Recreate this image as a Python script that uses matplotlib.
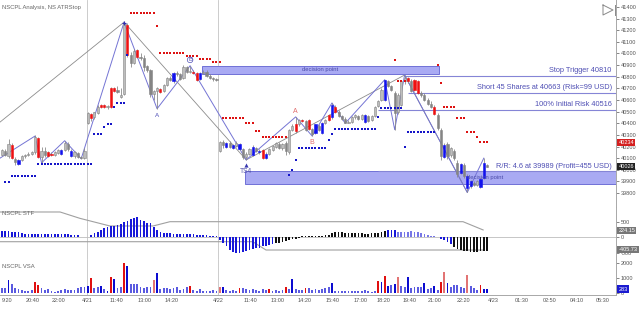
import numpy as np
import matplotlib
matplotlib.use('Agg')
import matplotlib.pyplot as plt
from matplotlib.patches import Rectangle
import matplotlib.transforms as mtransforms

plt.rcParams['font.family'] = ['Liberation Sans', 'DejaVu Sans']

# ---- price bars (one per 10 min, 3 sessions) ----
opens = [40130, 40165, 40120, 40215, 40095, 40050, 40085, 40115, 40130, 40140,
         40150, 40270, 40110, 40165, 40150, 40140, 40130, 40145, 40135, 40170,
         40225, 40165, 40120, 40145, 40110, 40100,
         40400, 40480, 40450, 40490, 40555, 40555, 40540, 40700, 40705, 40690,
         40630, 40650, 41245, 40990, 40920, 41030, 40970, 40960, 40890, 40860,
         40650, 40680, 40695, 40680, 40730, 40790, 40760, 40835, 40820, 40790,
         40880, 40840, 40845, 40835, 40780, 40830, 40845, 40810, 40790, 40780,
         40160, 40240, 40200, 40230, 40190, 40205, 40220, 40175, 40110, 40140,
         40130, 40190, 40160, 40170, 40100, 40140, 40170, 40200, 40220, 40190,
         40230, 40150, 40340, 40390, 40390, 40430, 40420, 40430, 40350, 40320,
         40380, 40320, 40400, 40470, 40450, 40540, 40500, 40460, 40440, 40405,
         40415, 40450, 40460, 40440, 40410, 40460, 40430, 40460, 40550, 40600,
         40600, 40760, 40720, 40660, 40500, 40560, 40760, 40790, 40760, 40770,
         40760, 40660, 40640, 40600, 40570, 40540, 40470, 40340, 40110, 40220,
         40130, 40160, 40060, 39970, 40040, 39840, 39860, 39890, 39870, 39850,
         39930, 40040]
highs = [40180, 40175, 40265, 40230, 40110, 40095, 40125, 40140, 40150, 40165,
         40295, 40285, 40200, 40200, 40160, 40150, 40160, 40180, 40180, 40250,
         40240, 40175, 40160, 40155, 40120, 40185,
         40500, 40490, 40500, 40560, 40570, 40565, 40560, 40710, 40715, 40720,
         40700, 41270, 41260, 41010, 41040, 41040, 41000, 40990, 40900, 40870,
         40690, 40710, 40705, 40740, 40800, 40810, 40845, 40850, 40830, 40900,
         40895, 40895, 40860, 40845, 40840, 40860, 40855, 40820, 40800, 40790,
         40250, 40260, 40240, 40245, 40220, 40245, 40230, 40185, 40150, 40190,
         40210, 40200, 40175, 40180, 40150, 40190, 40215, 40240, 40235, 40230,
         40245, 40355, 40390, 40455, 40440, 40440, 40430, 40440, 40360, 40395,
         40390, 40410, 40440, 40480, 40575, 40555, 40510, 40475, 40450, 40430,
         40460, 40480, 40470, 40480, 40480, 40475, 40470, 40550, 40600, 40700,
         40775, 40770, 40730, 40680, 40660, 40770, 40815, 40800, 40780, 40780,
         40770, 40680, 40660, 40620, 40590, 40560, 40490, 40360, 40230, 40240,
         40200, 40180, 40080, 40060, 40060, 39960, 39910, 39900, 39910, 39930,
         40100, 40050]
lows = [40120, 40115, 40100, 40090, 40040, 40040, 40075, 40105, 40120, 40130,
        40140, 40100, 40060, 40110, 40110, 40120, 40120, 40140, 40130, 40160,
        40160, 40110, 40105, 40100, 40095, 40090,
        40390, 40420, 40440, 40480, 40530, 40530, 40520, 40530, 40670, 40660,
        40620, 40640, 40970, 40880, 40910, 40960, 40940, 40850, 40840, 40630,
        40600, 40525, 40660, 40670, 40720, 40760, 40750, 40810, 40770, 40780,
        40830, 40830, 40825, 40760, 40770, 40820, 40800, 40780, 40760, 40760,
        40150, 40190, 40190, 40190, 40180, 40195, 40170, 40095, 40085, 40130,
        40120, 40150, 40140, 40095, 40090, 40130, 40160, 40190, 40180, 40170,
        40130, 40140, 40330, 40320, 40380, 40410, 40330, 40340, 40290, 40310,
        40330, 40310, 40390, 40420, 40440, 40490, 40450, 40430, 40400, 40400,
        40405, 40440, 40430, 40430, 40400, 40410, 40420, 40450, 40540, 40590,
        40595, 40710, 40680, 40345, 40480, 40550, 40740, 40750, 40670, 40680,
        40650, 40630, 40590, 40560, 40530, 40470, 40340, 40080, 40100, 40090,
        40110, 40080, 39940, 39960, 39930, 39805, 39840, 39860, 39860, 39840,
        39920, 40020]
closes = [40170, 40130, 40225, 40100, 40070, 40085, 40115, 40130, 40140, 40150,
          40280, 40110, 40165, 40125, 40120, 40130, 40150, 40170, 40170, 40230,
          40175, 40120, 40150, 40110, 40100, 40165,
          40490, 40445, 40495, 40540, 40540, 40540, 40550, 40540, 40680, 40670,
          40645, 41260, 40990, 40915, 41020, 40970, 40960, 40880, 40860, 40650,
          40680, 40700, 40670, 40730, 40790, 40770, 40835, 40820, 40780, 40880,
          40840, 40850, 40835, 40770, 40830, 40845, 40810, 40790, 40780, 40770,
          40240, 40210, 40230, 40200, 40210, 40230, 40175, 40110, 40140, 40180,
          40200, 40160, 40150, 40105, 40140, 40180, 40205, 40230, 40190, 40220,
          40160, 40345, 40380, 40330, 40430, 40420, 40340, 40350, 40310, 40390,
          40340, 40400, 40430, 40430, 40555, 40500, 40460, 40440, 40405, 40415,
          40450, 40470, 40440, 40470, 40470, 40420, 40460, 40540, 40590, 40690,
          40770, 40720, 40690, 40490, 40640, 40760, 40790, 40760, 40680, 40690,
          40660, 40640, 40600, 40570, 40540, 40480, 40360, 40120, 40210, 40120,
          40190, 40100, 39960, 40050, 39950, 39950, 39900, 39870, 39900, 39920,
          40060, 40026]
candle_colors = ("gggrgbgggg" "grggrrggbg" "gbgggg"
                 "grggrrgrrg" "ggrggrgggg" "ggrgggbggg" "ggrrbggggg"
                 "ggbgbgbggg" "bgbrbggggg" "gggrgrgrgb" "gbgrbrgggg"
                 "ggggbggggg" "bggggggrgr" "rggggrggbg" "gggbgbbggb" "bg")

# ATR stop dots: (first bar, last bar, level)
stop_red = [(39, 46, 41348), (47, 47, 41236), (48, 55, 41005), (56, 59, 40975),
            (60, 63, 40955), (64, 66, 40925), (67, 73, 40445), (74, 76, 40400),
            (77, 78, 40335), (79, 86, 40282), (119, 119, 40944), (120, 122, 40760),
            (132, 132, 40900), (133, 133, 40745), (134, 137, 40540),
            (138, 140, 40445), (141, 143, 40325), (144, 144, 40282), (145, 147, 40240)]
stop_blue = [(1, 2, 39895), (3, 10, 39947), (11, 27, 40050), (28, 30, 40310),
             (31, 31, 40370), (32, 33, 40395), (34, 34, 40540), (35, 37, 40575),
             (38, 38, 40990), (87, 87, 39955), (88, 88, 40000), (89, 89, 40085),
             (90, 98, 40190), (99, 99, 40255), (100, 100, 40310), (101, 113, 40350),
             (114, 114, 40455), (115, 121, 40530), (122, 122, 40196), (123, 131, 40325)]

# zigzag swing points and trend lines
zig_bars = [-0.6, 10, 12, 19, 24, 37, 47, 57, 74, 89, 94, 100, 104, 116, 119, 122, 141, 146]
zig_prices = [40100, 40290, 40060, 40250, 40095, 41270, 40525, 40895, 40085,
              40455, 40290, 40575, 40400, 40775, 40345, 40815, 39805, 40100]
trend_bars = [-0.6, 37, 74, 122, 141]
trend_prices = [40410, 41270, 40085, 40815, 39805]

# trade levels
level_prices = [40810, 40663, 40516, 39989]
level_start = [122, 123, 114, 114]
level_labels = ['Stop Trigger 40810', 'Short 45 Shares at 40663 (Risk=99 USD)',
                '100% Initial Risk 40516', 'R/R: 4.6 at 39989 (Profit=455 USD)']

# decision point zones: (bar from, bar to, low, high, label bar)
zones = [(60.6, 132.4, 40825, 40895, 96.5), (73.6, 186.1, 39878, 39990, 146.4)]

# STF oscillator
stf = [215, 205, 195, 185, 175, 160, 150,
       120, 115, 110, 115, 110, 110, 105, 110, 105, 100, 100, 95, 100, 95, 90, 90, 85,
       0, 0, 0,
       75, 130, 185, 240, 300, 350, 380, 380, 400, 425, 510, 545, 590, 620, 650, 570,
       545, 480, 460, 350, 240, 185, 155,
       130, 125, 120, 115, 110, 105, 100, 100, 95, 90, 85, 80, 70, 55, 40, 30,
       -90, -200, -300, -410, -470, -500, -500, -470, -450, -415, -395, -360, -340,
       -300, -275, -250, -220, -200, -175, -140, -110, -90, -70, -55, -35,
       30, 35, 40, 40, 45, 45, 50, 60, 75,
       150, 180, 185, 180,
       150, 140, 130, 130, 125, 125, 120, 120, 130, 140, 150, 170, 210,
       240, 250, 230,
       180, 170, 160, 175, 190, 180, 160, 130, 100, 70, 40,
       30, 0,
       -40, -90, -140, -210,
       -330, -380, -420, -450, -460, -470, -475, -470, -460, -455, -440]
stf_colors = "b" * 66 + "b" * 17 + "k" * 34 + "bbb" + "l" * 13 + "bbbb" + "k" * 11
stf_upper_bars = [-0.6, 17.6, 23.6, 32.7, 45.8, 50.9, 139.7, 145.8]
stf_upper = [827, 827, 620, 370, 370, 510, 510, 240]
stf_lower_bars = [-0.6, 76, 80, 146]
stf_lower = [-144, -144, -415, -415]

# VSA volume
volume = [333, 333, 890, 620, 333, 270, 220, 180, 155, 220,
          780, 555, 333, 220, 290, 155, 110, 180, 220, 265,
          220, 220, 220, 333, 400, 445, 490, 1000, 333, 445,
          490, 265, 180, 1065, 930, 333, 400, 2040, 1820, 620,
          620, 620, 400, 333, 400, 445, 890, 1330, 265, 333,
          380, 265, 333, 400, 220, 310, 400, 490, 220, 180,
          265, 155, 180, 155, 220, 180, 400, 400, 220, 155,
          220, 180, 333, 333, 265, 220, 265, 220, 155, 265,
          220, 265, 180, 220, 155, 220, 445, 265, 955, 265,
          220, 220, 333, 333, 220, 265, 220, 265, 333, 400,
          665, 180, 155, 130, 155, 155, 155, 155, 130, 155,
          220, 130, 110, 180, 820, 730, 1155, 490, 555, 620,
          1110, 490, 445, 1065, 333, 400, 445, 400, 665, 265,
          333, 490, 220, 775, 1445, 665, 400, 555, 555, 445,
          333, 1220, 490, 333, 220, 555, 265, 283]
volume_colors = ("llblllllll" "rrllllllll" "llllllbrll" "blbrbllrbl"
                 "llllllsbll" "lllllllrll" "llllllsbll" "llrlllllll"
                 "lrllllrlbl" "llrlllllll" "blllllllll" "llllrbrblb"
                 "sllbllllbl" "lblrsbllll" "lslllrbb")

time_pos = [1.5, 9.4, 17, 25.8, 34.8, 43.3, 51.5, 65.5, 75.2, 83.6, 91.8, 100.3,
            108.8, 115.5, 123.6, 131.2, 139.7, 149, 157.6, 166, 174.3, 182.1]
time_labels = ['9:20', '20:40', '22:00', '4/21', '11:40', '13:00', '14:20', '4/22',
               '11:40', '13:00', '14:20', '15:40', '17:00', '18:20', '19:40', '21:00',
               '22:20', '4/23', '01:30', '02:50', '04:10', '05:30']
day_breaks = [25.8, 65.5]

# ---- figure ----
W, H = 640, 309
fig = plt.figure(figsize=(W / 100, H / 100), dpi=100)


def rect(x0, y0, x1, y1):
    return [x0 / W, 1 - y1 / H, (x1 - x0) / W, (y1 - y0) / H]


ax1 = fig.add_axes(rect(0, 0, 616, 207))
ax2 = fig.add_axes(rect(0, 207, 616, 259))
ax3 = fig.add_axes(rect(0, 259, 616, 295))

GRID = '#a8a8a8'
TXT = '#555555'
XMIN, XMAX = -0.6, 186.06
for ax in (ax1, ax2, ax3):
    ax.set_xlim(XMIN, XMAX)
    for s in ('top', 'left'):
        ax.spines[s].set_visible(False)
    ax.spines['right'].set_color(GRID)
    ax.spines['bottom'].set_color(GRID)
    ax.spines['right'].set_linewidth(0.7)
    ax.spines['bottom'].set_linewidth(0.7)
    ax.yaxis.tick_right()
    ax.tick_params(axis='y', labelsize=4, colors=TXT, length=2, width=0.5, pad=1.5)
    ax.tick_params(axis='x', length=0)
    for d in day_breaks:
        ax.axvline(d, color='#c4c4c4', lw=0.6, zorder=0)
    ax.set_xticks([])

# price panel
ax1.set_ylim(39680, 41460)
ax1.set_yticks(range(39800, 41401, 100))
ax1.set_yticklabels([str(v) for v in range(39800, 41401, 100)])

for (x0, x1, lo, hi, tx) in zones:
    ax1.add_patch(Rectangle((x0, lo), x1 - x0, hi - lo, facecolor='#a9aaf3',
                            edgecolor='#6f70d6', lw=0.7, zorder=1))
    ax1.text(tx, (lo + hi) / 2, 'decision point', ha='center', va='center',
             fontsize=4.2, color='#4a4aa8', zorder=6)

for p, s, lab in zip(level_prices, level_start, level_labels):
    ax1.hlines(p, s, XMAX, color='#8585d6', lw=0.8, zorder=2)
    ax1.text(184.8, p + 12, lab, ha='right', va='bottom', fontsize=5.3,
             color='#4f4fb4', zorder=6)

ax1.plot(trend_bars, trend_prices, color='#8c8c8c', lw=0.6, zorder=2)
ax1.plot(zig_bars, zig_prices, color='#7474d4', lw=0.7, zorder=3)

xs = np.arange(len(closes))
col_map = {'r': '#ee1111', 'b': '#1111ee'}
ax1.vlines(xs, lows, highs, color='#8a8a8a', lw=0.6, zorder=4)
for i in xs:
    o, c, k = opens[i], closes[i], candle_colors[i]
    h = c - o
    if abs(h) < 6:
        h = 6 if h >= 0 else -6
    if k == 'g':
        fc = '#bdbdbd' if c > o else '#858585'
        ec = '#858585'
    else:
        fc = ec = col_map[k]
    ax1.bar(i, h, bottom=o, width=0.66, color=fc, edgecolor=ec, lw=0.4, zorder=5)

for segs, color in ((stop_red, '#dd1111'), (stop_blue, '#1515c8')):
    for a, b, p in segs:
        bx = np.arange(a, b + 1)
        ax1.plot(bx, [p] * len(bx), 's', ms=1.5, mew=0, color=color, zorder=6)

# swing labels
ax1.plot(37, 41262, marker='+', ms=3, mew=0.8, color='#3030b0', zorder=7)
ax1.text(47, 40470, 'A', ha='center', va='center', fontsize=4.5, color='#5050b8', zorder=7)
ax1.text(57, 40945, 'B', ha='center', va='center', fontsize=4.2, color='#5050b8', zorder=7,
         bbox=dict(boxstyle='circle,pad=0.05', fc='none', ec='#5050b8', lw=0.5))
ax1.plot(74, 40040, marker='^', ms=3, mew=0, color='#3838b0', zorder=7)
ax1.text(74, 39985, 'TS4', ha='center', va='center', fontsize=4.8, color='#5050a8', zorder=7)
ax1.text(89, 40500, 'A', ha='center', va='center', fontsize=5, color='#e06c6c', zorder=7)
ax1.text(94, 40235, 'B', ha='center', va='center', fontsize=5, color='#e06c6c', zorder=7)

ax1.text(0.003, 0.975, 'NSCPL Analysis, NS ATRStop', transform=ax1.transAxes,
         fontsize=4.2, color='#666666', va='top', ha='left')

trans1 = mtransforms.blended_transform_factory(ax1.transAxes, ax1.transData)
ax1.text(1.004, 40234, '40234', transform=trans1, fontsize=4, color='white', va='center',
         ha='left', bbox=dict(boxstyle='square,pad=0.2', fc='#d42020', ec='none'), zorder=8)
ax1.text(1.004, 40026, '40026', transform=trans1, fontsize=4, color='white', va='center',
         ha='left', bbox=dict(boxstyle='square,pad=0.2', fc='#222222', ec='none'), zorder=8)

# STF panel
ax2.set_ylim(-709, 990)
ax2.set_yticks([-500, 0, 500])
ax2.set_yticklabels(['-500', '0', '500'])
ax2.axhline(0, color='#bdbdbd', lw=0.6, zorder=1)
stf_map = {'b': '#1818d8', 'l': '#7777e6', 'k': '#111111'}
ax2.bar(xs, stf, width=0.5, color=[stf_map[c] for c in stf_colors], zorder=3)
ax2.plot(stf_upper_bars, stf_upper, color='#a0a0a0', lw=0.8, zorder=2)
ax2.plot(stf_lower_bars, stf_lower, color='#a0a0a0', lw=0.8, zorder=2)
ax2.text(0.003, 0.92, 'NSCPL STF', transform=ax2.transAxes, fontsize=4.2,
         color='#666666', va='top', ha='left')
trans2 = mtransforms.blended_transform_factory(ax2.transAxes, ax2.transData)
ax2.text(1.004, 224.15, '224.15', transform=trans2, fontsize=4, color='white', va='center',
         ha='left', bbox=dict(boxstyle='square,pad=0.2', fc='#777777', ec='none'), zorder=8)
ax2.text(1.004, -405.73, '-405.73', transform=trans2, fontsize=4, color='white', va='center',
         ha='left', bbox=dict(boxstyle='square,pad=0.2', fc='#777777', ec='none'), zorder=8)

# VSA panel
ax3.set_ylim(-113, 2290)
ax3.set_yticks([0, 1000, 2000])
ax3.set_yticklabels(['0', '1000', '2000'])
vol_map = {'b': '#0c0cd0', 'l': '#5a5ae0', 'r': '#e01010', 's': '#e27474'}
ax3.bar(xs, volume, width=0.55, color=[vol_map[c] for c in volume_colors], zorder=3)
ax3.text(0.003, 0.86, 'NSCPL VSA', transform=ax3.transAxes, fontsize=4.2,
         color='#666666', va='top', ha='left')
trans3 = mtransforms.blended_transform_factory(ax3.transAxes, ax3.transData)
ax3.text(1.004, 283, '283', transform=trans3, fontsize=4, color='white', va='center',
         ha='left', bbox=dict(boxstyle='square,pad=0.2', fc='#1a1ad0', ec='none'), zorder=8)

ax3.set_xticks(time_pos)
ax3.set_xticklabels(time_labels, fontsize=4, color=TXT)
ax3.tick_params(axis='x', length=0, pad=2)

# navigation glyph top right
fig.lines.append(plt.Line2D([603 / W, 613 / W, 603 / W, 603 / W],
                            [1 - 5 / H, 1 - 10 / H, 1 - 15 / H, 1 - 5 / H],
                            transform=fig.transFigure, color='#888888', lw=0.7))
fig.lines.append(plt.Line2D([615 / W, 615 / W], [1 - 5 / H, 1 - 15 / H],
                            transform=fig.transFigure, color='#888888', lw=0.7))

fig.savefig('out.png', dpi=100, facecolor='white')
